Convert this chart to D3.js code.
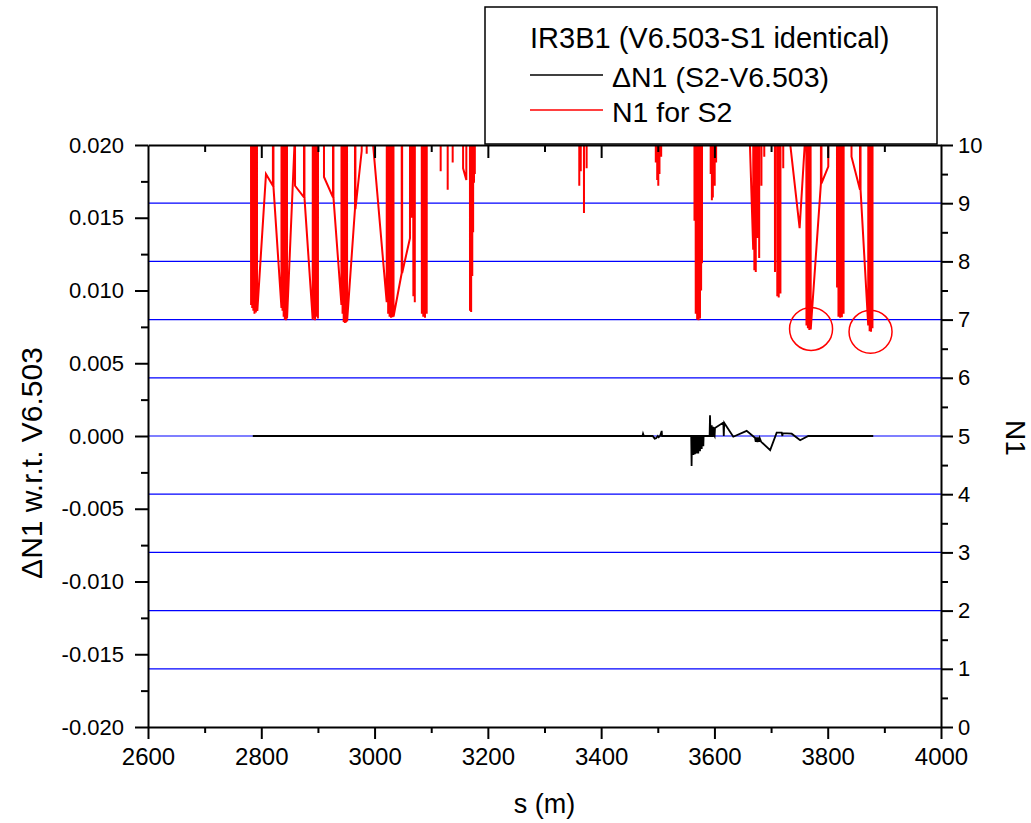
<!DOCTYPE html>
<html>
<head>
<meta charset="utf-8">
<script src="https://cdn.jsdelivr.net/npm/d3@7"></script>
<style>
  html, body { margin: 0; padding: 0; background: #fff; }
  svg { display: block; font-family: "Liberation Sans", Arial, sans-serif; }
  .axis path, .axis line { stroke: #000; stroke-width: 2px; }
  .axis text { fill: #000; font-family: "Liberation Sans", Arial, sans-serif; }
</style>
</head>
<body>
<svg id="chart" width="1031" height="823"></svg>
<script>
// Off-scale marker for N1 values far above the plotted range
const HI = 30;

// Beam position s (m) ranges and tick values
const sDomain = [2600, 4000];
const sMajorTicks = [2600, 2800, 3000, 3200, 3400, 3600, 3800, 4000];
const sMinorTicks = [2700, 2900, 3100, 3300, 3500, 3700, 3900];

const dN1Domain = [-0.020, 0.020];
const dN1MajorTicks = [-0.020, -0.015, -0.010, -0.005, 0.000, 0.005, 0.010, 0.015, 0.020];
const dN1MinorTicks = [-0.0175, -0.0125, -0.0075, -0.0025, 0.0025, 0.0075, 0.0125, 0.0175];

const n1Domain = [0, 10];
const n1MajorTicks = [0, 1, 2, 3, 4, 5, 6, 7, 8, 9, 10];
const n1MinorTicks = [0.5, 1.5, 2.5, 3.5, 4.5, 5.5, 6.5, 7.5, 8.5, 9.5];
const n1GridLevels = [1, 2, 3, 4, 5, 6, 7, 8, 9];

// N1 for S2 along s: [s, N1]
const n1S2 = [
  [2781, HI],
  [2782, 7.25], [2783, HI], [2784, 7.2], [2785, HI], [2786, 7.15], [2787, HI], [2788, 7.1], [2789, HI], [2790.5, 7.12], [2791.5, HI], [2792.5, 7.55], [2793, 7.15],
  [2808.3, 9.5], [2820.5, 9.3], [2821, HI], [2821.5, 9.28],
  [2835.6, 7.2], [2836.5, HI], [2837.5, 7.15], [2838.5, HI], [2839.5, 7.05], [2840.5, HI], [2841.5, 7.0], [2842.5, HI], [2843.5, 6.99], [2844.5, HI], [2845.5, 7.02],
  [2858.8, 10.05], [2859.2, HI], [2859.6, 9.3], [2875.4, 9.1], [2875.8, HI], [2876.2, 9.1],
  [2890.8, 7.0], [2891.5, HI], [2892.5, 7.02], [2893.5, HI], [2895, 6.99], [2896, HI], [2897.5, 7.05], [2898.5, HI], [2900, 7.02], [2901, HI],
  [2910.3, HI], [2910.7, 9.45], [2926.6, 9.1], [2927, HI], [2927.4, 9.1],
  [2941.5, 7.25], [2942.5, HI], [2943.5, 7.1], [2944.5, HI], [2945.5, 6.96], [2946.5, HI], [2947.5, 6.94], [2948.5, HI], [2949.5, 6.95], [2950.5, HI], [2951.5, 6.97],
  [2965.4, 8.9], [2965.8, HI], [2966.2, 8.9], [2977.3, 9.9], [2978, HI],
  [2985.5, HI], [2986.1, 9.85], [2986.7, HI],
  [2996.5, HI], [2997, 10.05],
  [3021.4, 7.3], [3022.5, HI], [3024, 7.1], [3025, HI], [3026.5, 7.05], [3027.5, HI], [3029, 7.03], [3030, HI], [3031.5, 7.04], [3032.5, HI], [3033.5, 7.05],
  [3047.9, 7.8], [3048.3, HI], [3048.7, 7.8], [3062.5, 8.4], [3063.5, HI], [3065, 8.75], [3066, HI], [3068.5, 7.4], [3069.5, HI], [3071, 7.3], [3072, HI],
  [3082, HI], [3083.5, 7.1], [3084.5, HI], [3086, 7.05], [3087, HI], [3089, 7.03], [3090, HI], [3092, 7.1], [3093, HI],
  [3116, HI], [3116.7, 9.55], [3117.4, HI], [3128.5, HI], [3129.1, 9.23], [3129.7, HI], [3137.3, HI], [3137.9, 9.7], [3138.5, HI],
  [3155.5, HI], [3156.3, 9.6], [3162, 9.4], [3162.6, HI], [3167.5, HI], [3168.5, 7.15], [3169.5, HI], [3170.5, 7.13], [3171.5, HI],
  [3172.5, 7.75], [3173.2, HI], [3174, 8.5], [3174.7, HI], [3175.5, 9.35], [3176.2, HI], [3177, 9.5], [3177.7, HI],
  [3360.5, HI], [3361.4, 9.3], [3362.3, HI], [3364, 9.55], [3365, HI], [3368.5, HI], [3369.7, 8.83], [3370.8, HI], [3373.5, HI], [3374.4, 9.6], [3375, HI],
  [3495.5, HI], [3496.5, 9.7], [3497.5, HI], [3499, 9.4], [3500, HI], [3500.9, 9.3], [3501.8, HI], [3503, 9.5], [3504, HI], [3506, 9.8], [3507, HI],
  [3563.5, HI], [3564.8, 8.7], [3565.8, HI], [3567, 7.1], [3568, HI], [3569.5, 7.0], [3570.5, HI], [3572, 6.99], [3573, HI],
  [3574.5, 7.02], [3575.5, HI], [3576.5, 7.5], [3577.3, HI], [3578, 7.97], [3579, HI],
  [3592.5, HI], [3593.4, 9.5], [3594.3, HI], [3595.5, 9.05], [3596.3, HI], [3597.2, 9.1], [3598, HI], [3600.5, 9.3], [3601.3, HI], [3603, 9.7], [3604, HI],
  [3661.5, HI], [3662.5, 10.05], [3668.5, 8.2], [3669, HI], [3670.5, 7.85], [3671.5, HI], [3673, 7.82], [3674, HI], [3676, 8.4], [3677, HI],
  [3679, 8.06], [3680, HI], [3683, 9.3], [3684, HI], [3688, 9.8], [3689, HI],
  [3705, HI], [3706.9, 7.82], [3708, HI], [3711, 7.4], [3712, HI], [3713.5, 7.38], [3714.5, HI], [3716.5, 7.45], [3717.5, HI], [3721.5, 9.6], [3722.2, HI],
  [3732.5, HI], [3733.4, 10.05], [3750.4, 8.57], [3760, 10.1], [3761, HI],
  [3762.5, 6.9], [3763.5, HI], [3765, 6.85], [3766, HI], [3767.5, 6.82], [3768.5, HI], [3770, 6.83],
  [3788, 9.34], [3788.5, HI], [3789, 9.34], [3801, 9.63], [3801.5, HI],
  [3815, HI], [3816.5, 7.55], [3817.5, HI], [3819, 7.05], [3820, HI], [3822, 7.03], [3823, HI], [3825, 7.04], [3826, HI], [3828, 7.1], [3829, HI],
  [3841.5, HI], [3842, 9.8], [3857, 9.23], [3857.5, HI], [3858, 9.23],
  [3871.5, 6.9], [3872.5, HI], [3874, 6.8], [3875, HI], [3876.5, 6.79], [3877.5, HI], [3879, 6.85], [3880, HI]
];

// Difference of N1 between S2 and V6.503 along s: [s, dN1]
const deltaN1 = [
  [2785, 0], [3473, 0], [3474, 0.00016], [3475.5, 0],
  [3491, 0], [3494.5, -0.00018], [3497, -0.00015], [3500, 0], [3501.5, -0.00008], [3504, 0], [3506.9, 0.00035], [3507.5, 0],
  [3559, 0], [3559.7, -0.00206], [3560.4, 0], [3562.5, 0], [3563, -0.0013], [3563.6, 0],
  [3565.2, 0], [3565.6, -0.00126], [3566.1, 0], [3568.2, 0], [3568.6, -0.0012], [3569.1, 0],
  [3571.1, 0], [3571.5, -0.0012], [3572, 0], [3574.1, 0], [3574.5, -0.00105], [3575, 0],
  [3577.1, 0], [3577.5, -0.0009], [3578, 0], [3580, 0], [3580.4, -0.0007], [3580.9, 0],
  [3591.5, 0], [3592.2, 0.00142], [3593.2, 0], [3594.5, 0], [3595.2, 0.00073], [3596, 0],
  [3597.3, 0], [3598, 0.00063], [3599, 0.0001], [3600.3, 0], [3601, 0.00055],
  [3615.7, 0.00092], [3616.5, 0], [3617.3, 0.0009], [3633.3, -0.00005], [3656.9, 0.00035],
  [3671.6, -0.00012], [3673, -0.0004], [3674, -0.0001], [3676, -0.00042], [3677, -0.0001],
  [3679, -0.0004], [3680, -0.00015], [3682.5, -0.0004], [3698.4, -0.00097],
  [3709.9, 0.00023], [3718.8, 0.00023], [3720, 0], [3720.5, 0.0002], [3736.4, 0.00016],
  [3751.3, -0.00029], [3765.7, 0], [3880.4, 0]
];

// Highlighted minima: [s, N1]
const highlightPoints = [[3770.6, 6.84], [3875.6, 6.79]];

// Legend texts
const legendTitle = "IR3B1 (V6.503-S1 identical)";
const legendLabels = ["\u0394N1 (S2-V6.503)", "N1 for S2"];

const svg = d3.select("#chart");
const plot = { left: 148, right: 941, top: 145, bottom: 727 };

const x = d3.scaleLinear().domain(sDomain).range([plot.left, plot.right]);
const yL = d3.scaleLinear().domain(dN1Domain).range([plot.bottom, plot.top]);
const yR = d3.scaleLinear().domain(n1Domain).range([plot.bottom, plot.top]);

svg.append("defs").append("clipPath").attr("id", "plotClip")
  .append("rect")
  .attr("x", plot.left).attr("y", plot.top)
  .attr("width", plot.right - plot.left).attr("height", plot.bottom - plot.top);

// Blue reference levels of N1
svg.append("g").selectAll("line").data(n1GridLevels).join("line")
  .attr("x1", plot.left).attr("x2", plot.right)
  .attr("y1", d => yR(d)).attr("y2", d => yR(d))
  .attr("stroke", "#0000ff").attr("stroke-width", 1.2);

const dataLayer = svg.append("g").attr("clip-path", "url(#plotClip)");

dataLayer.append("path")
  .datum(n1S2)
  .attr("fill", "none").attr("stroke", "#ff0000").attr("stroke-width", 2)
  .attr("stroke-linejoin", "miter")
  .attr("d", d3.line().x(d => x(d[0])).y(d => yR(d[1])));

dataLayer.append("path")
  .datum(deltaN1)
  .attr("fill", "none").attr("stroke", "#000").attr("stroke-width", 1.8)
  .attr("d", d3.line().x(d => x(d[0])).y(d => yL(d[1])));

// Axes
const fmtL = v => d3.format(".3f")(v).replace("\u2212", "-");

const gx = svg.append("g").attr("class", "axis").attr("transform", `translate(0,${plot.bottom})`);
gx.call(d3.axisBottom(x).tickValues(sMajorTicks).tickSize(12).tickSizeOuter(0).tickPadding(9).tickFormat(d3.format("d")));
gx.selectAll("text").style("font-size", "24px");
svg.append("g").attr("class", "axis").attr("transform", `translate(0,${plot.bottom})`)
  .call(d3.axisBottom(x).tickValues(sMinorTicks).tickSize(6).tickFormat(""))
  .select(".domain").remove();

const gt = svg.append("g").attr("class", "axis").attr("transform", `translate(0,${plot.top})`);
gt.call(d3.axisTop(x).tickValues(sMajorTicks.slice(1, -1)).tickSize(-13).tickSizeOuter(0).tickFormat(""));
svg.append("g").attr("class", "axis").attr("transform", `translate(0,${plot.top})`)
  .call(d3.axisTop(x).tickValues(sMinorTicks).tickSize(-7).tickFormat(""))
  .select(".domain").remove();

const gl = svg.append("g").attr("class", "axis").attr("transform", `translate(${plot.left},0)`);
gl.call(d3.axisLeft(yL).tickValues(dN1MajorTicks).tickSize(13).tickSizeOuter(0).tickPadding(11).tickFormat(fmtL));
gl.selectAll("text").style("font-size", "22px");
svg.append("g").attr("class", "axis").attr("transform", `translate(${plot.left},0)`)
  .call(d3.axisLeft(yL).tickValues(dN1MinorTicks).tickSize(7).tickFormat(""))
  .select(".domain").remove();

const gr = svg.append("g").attr("class", "axis").attr("transform", `translate(${plot.right},0)`);
gr.call(d3.axisRight(yR).tickValues(n1MajorTicks).tickSize(12).tickSizeOuter(0).tickPadding(5).tickFormat(d3.format("d")));
gr.selectAll("text").style("font-size", "22px");
svg.append("g").attr("class", "axis").attr("transform", `translate(${plot.right},0)`)
  .call(d3.axisRight(yR).tickValues(n1MinorTicks).tickSize(7).tickFormat(""))
  .select(".domain").remove();

// Axis titles
svg.append("text")
  .attr("x", (plot.left + plot.right) / 2).attr("y", 813)
  .attr("text-anchor", "middle").style("font-size", "27px")
  .text("s (m)");

svg.append("text")
  .attr("transform", "translate(42,463) rotate(-90)")
  .attr("text-anchor", "middle").style("font-size", "30px")
  .text("\u0394N1 w.r.t. V6.503");

svg.append("text")
  .attr("transform", "translate(1006,438) rotate(90)")
  .attr("text-anchor", "middle").style("font-size", "28px")
  .text("N1");

// Legend
const legend = svg.append("g");
legend.append("rect")
  .attr("x", 485).attr("y", 7).attr("width", 452).attr("height", 137)
  .attr("fill", "#fff").attr("stroke", "#000").attr("stroke-width", 1.5);
legend.append("text").attr("x", 530).attr("y", 48).style("font-size", "29px").text(legendTitle);
const legendColors = ["#000", "#ff0000"];
const legendRows = [75, 110];
legendLabels.forEach((label, i) => {
  legend.append("line")
    .attr("x1", 530).attr("x2", 603)
    .attr("y1", legendRows[i]).attr("y2", legendRows[i])
    .attr("stroke", legendColors[i]).attr("stroke-width", 1.5);
  legend.append("text")
    .attr("x", 612).attr("y", legendRows[i] + 11.5)
    .style("font-size", "28.5px").text(label);
});

// Circled minima
svg.append("g").selectAll("circle").data(highlightPoints).join("circle")
  .attr("cx", d => x(d[0])).attr("cy", d => yR(d[1]))
  .attr("r", 21.5)
  .attr("fill", "none").attr("stroke", "#ff0000").attr("stroke-width", 1.5);
</script>
</body>
</html>
